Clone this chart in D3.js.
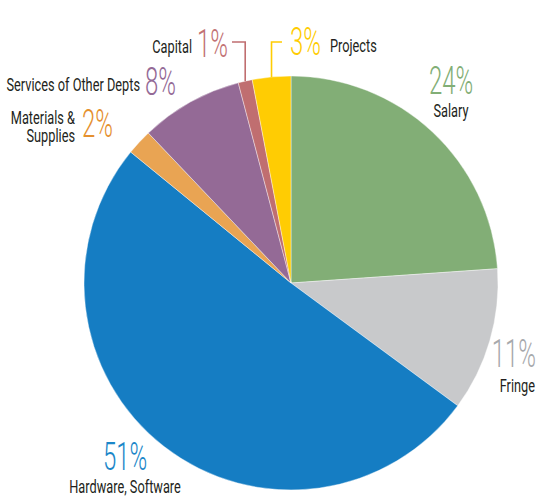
<!DOCTYPE html>
<html>
<head>
<meta charset="utf-8">
<script src="https://cdn.jsdelivr.net/npm/d3@7"></script>
<style>
html,body{margin:0;padding:0;background:#fff;}
svg{display:block;}
text{font-family:Roboto,"Liberation Sans Narrow","DejaVu Sans Condensed",sans-serif;}
</style>
</head>
<body>
<svg id="chart" width="537" height="498"></svg>
<script>
// ---- data ----
const categories = ["Salary","Fringe","Hardware, Software","Materials & Supplies","Services of Other Depts","Capital","Projects"];
const values = [23.9, 11.2, 50.8, 2.0, 8.0, 1.1, 3.0];
const pctLabels = ["24%","11%","51%","2%","8%","1%","3%"];
const sliceColors = ["#82AE76","#C8C9CB","#157DC3","#E9A453","#946A96","#C06E70","#FFCC03"];
const pctColors = ["#82AE76","#A7A9AC","#1B87C9","#E5902F","#946A96","#C27274","#FFCC00"];

// ---- layout (positions / styles) ----
const W = 537, H = 498, cx = 291, cy = 283, R = 207;
const pctSize = 38, pctScale = 0.63, lblSize = 18, lblScale = 0.71;
const layout = [
  {pct:{x:451,y:94,a:"middle"}, name:{x:451,y:117,a:"middle",lines:["Salary"]}},
  {pct:{x:536,y:367,a:"end"}, name:{x:535,y:392,a:"end",lines:["Fringe"]}},
  {pct:{x:125,y:470,a:"middle"}, name:{x:125,y:493,a:"middle",lines:["Hardware, Software"]}},
  {pct:{x:82,y:137,a:"start"}, name:{x:75,y:124,a:"end",lines:["Materials &","Supplies"],dy:18}},
  {pct:{x:145,y:95,a:"start"}, name:{x:140,y:91,a:"end",lines:["Services of Other Depts"]}},
  {pct:{x:197,y:57,a:"start"}, name:{x:192,y:53,a:"end",lines:["Capital"]}, leader:{y:42,x0:232}},
  {pct:{x:290,y:55,a:"start"}, name:{x:330,y:52,a:"start",lines:["Projects"]}, leader:{y:42,x0:282}}
];

const svg = d3.select("#chart");
const g = svg.append("g").attr("transform",`translate(${cx},${cy})`);

const pie = d3.pie().sort(null).value(d => d.v).startAngle(0).endAngle(2*Math.PI);
const arcs = pie(categories.map((c,i)=>({c, v: values[i], i})));
const arc = d3.arc().innerRadius(0).outerRadius(R);

g.selectAll("path.slice").data(arcs).join("path")
  .attr("class","slice")
  .attr("d", arc)
  .attr("fill", d => sliceColors[d.data.i])
  .attr("stroke","#fff").attr("stroke-width",0.4);

// leader lines
arcs.forEach(d => {
  const L = layout[d.data.i].leader;
  if (!L) return;
  const mid = (d.startAngle + d.endAngle)/2;
  const ex = cx + R*Math.sin(mid), ey = cy - R*Math.cos(mid);
  svg.append("path")
    .attr("d", d3.line()([[L.x0, L.y],[ex, L.y],[ex, ey]]))
    .attr("fill","none")
    .attr("stroke", sliceColors[d.data.i])
    .attr("stroke-width",1.6);
});

// labels
categories.forEach((c,i) => {
  const L = layout[i];
  svg.append("text")
    .attr("transform",`translate(${L.pct.x},${L.pct.y}) scale(${pctScale},1)`)
    .attr("text-anchor", L.pct.a)
    .attr("font-size", pctSize)
    .attr("font-weight", 300)
    .attr("fill", pctColors[i])
    .text(pctLabels[i]);
  L.name.lines.forEach((ln,k) => {
    svg.append("text")
      .attr("transform",`translate(${L.name.x},${L.name.y + k*(L.name.dy||0)}) scale(${lblScale},1)`)
      .attr("text-anchor", L.name.a)
      .attr("font-size", lblSize)
      .attr("fill", "#231F20")
      .text(ln);
  });
});
</script>
</body>
</html>
